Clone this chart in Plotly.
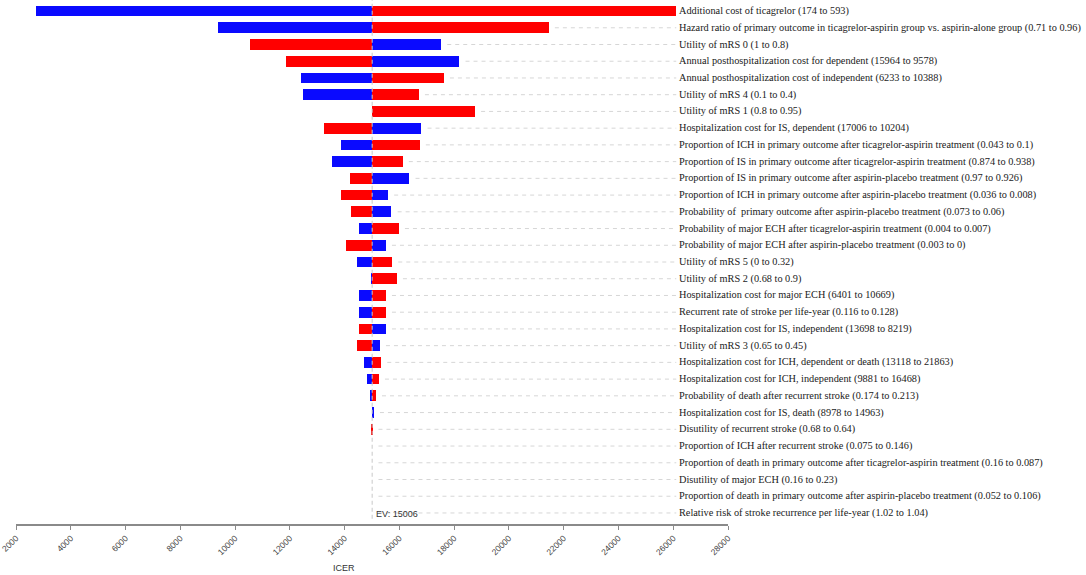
import plotly.graph_objects as go

# Valor esperado (EV) y parametros del tornado
ev = 15006

etiquetas = [
    "Additional cost of ticagrelor (174 to 593)",
    "Hazard ratio of primary outcome in ticagrelor-aspirin group vs. aspirin-alone group (0.71 to 0.96)",
    "Utility of mRS 0 (1 to 0.8)",
    "Annual posthospitalization cost for dependent (15964 to 9578)",
    "Annual posthospitalization cost of independent (6233 to 10388)",
    "Utility of mRS 4 (0.1 to 0.4)",
    "Utility of mRS 1 (0.8 to 0.95)",
    "Hospitalization cost for IS, dependent (17006 to 10204)",
    "Proportion of ICH in primary outcome after ticagrelor-aspirin treatment (0.043 to 0.1)",
    "Proportion of IS in primary outcome after ticagrelor-aspirin treatment (0.874 to 0.938)",
    "Proportion of IS in primary outcome after aspirin-placebo treatment (0.97 to 0.926)",
    "Proportion of ICH in primary outcome after aspirin-placebo treatment (0.036 to 0.008)",
    "Probability of  primary outcome after aspirin-placebo treatment (0.073 to 0.06)",
    "Probability of major ECH after ticagrelor-aspirin treatment (0.004 to 0.007)",
    "Probability of major ECH after aspirin-placebo treatment (0.003 to 0)",
    "Utility of mRS 5 (0 to 0.32)",
    "Utility of mRS 2 (0.68 to 0.9)",
    "Hospitalization cost for major ECH (6401 to 10669)",
    "Recurrent rate of stroke per life-year (0.116 to 0.128)",
    "Hospitalization cost for IS, independent (13698 to 8219)",
    "Utility of mRS 3 (0.65 to 0.45)",
    "Hospitalization cost for ICH, dependent or death (13118 to 21863)",
    "Hospitalization cost for ICH, independent (9881 to 16468)",
    "Probability of death after recurrent stroke (0.174 to 0.213)",
    "Hospitalization cost for IS, death (8978 to 14963)",
    "Disutility of recurrent stroke (0.68 to 0.64)",
    "Proportion of ICH after recurrent stroke (0.075 to 0.146)",
    "Proportion of death in primary outcome after ticagrelor-aspirin treatment (0.16 to 0.087)",
    "Disutility of major ECH (0.16 to 0.23)",
    "Proportion of death in primary outcome after aspirin-placebo treatment (0.052 to 0.106)",
    "Relative risk of stroke recurrence per life-year (1.02 to 1.04)",
]

# ICER en el extremo azul y en el extremo rojo de cada parametro
icer_azul = [2725, 9367, 17517, 18185, 12418, 12481, 15006, 16798, 13867, 13542,
             16360, 15579, 15706, 14539, 15499, 14440, 14951, 14539, 14539, 15499,
             15280, 14707, 14806, 14926, 15060, 15006, 15006, 15006, 15006, 15006,
             15006]
icer_rojo = [26119, 21448, 10528, 11849, 17615, 16703, 18754, 13247, 16736, 16115,
             14210, 13867, 14221, 15973, 14050, 15729, 15900, 15499, 15499, 14539,
             14466, 15327, 15243, 15134, 15006, 14975, 15006, 15006, 15006, 15006,
             15006]

ticks = list(range(2000, 28001, 2000))

filas = list(range(len(etiquetas)))
x_etiqueta = 26150

data = []

# lineas punteadas desde el final de la barra hasta la etiqueta
lx = []
ly = []
for i in filas:
    inicio = max(icer_azul[i], icer_rojo[i], ev) + 230
    if inicio < x_etiqueta - 100:
        lx += [inicio, x_etiqueta - 40, None]
        ly += [i, i, None]
data.append(go.Scatter(x=lx, y=ly, mode="lines",
                       line=dict(color="#d6d6d6", width=1, dash="4px,4px"),
                       hoverinfo="skip", showlegend=False))

data.append(go.Bar(y=filas, x=[v - ev for v in icer_azul], base=ev,
                   orientation="h", width=0.64, marker_color="#0a0aff",
                   marker_line_width=0, showlegend=False))
data.append(go.Bar(y=filas, x=[v - ev for v in icer_rojo], base=ev,
                   orientation="h", width=0.64, marker_color="#ff0000",
                   marker_line_width=0, showlegend=False))

fig = go.Figure(data=data)

for i in filas:
    fig.add_annotation(x=x_etiqueta, y=i, text=etiquetas[i], showarrow=False,
                       xanchor="left", yanchor="middle", xref="x", yref="y",
                       font=dict(family="Liberation Serif", size=10.3, color="#1a1a1a"))

# linea del valor esperado
fig.add_shape(type="line", x0=ev, x1=ev, y0=0.01, y1=1, xref="x", yref="paper",
              line=dict(color="#c8c8c8", width=1, dash="4px,3px"))
fig.add_annotation(x=ev, y=30, text="EV: 15006", showarrow=False, xanchor="left",
                   yanchor="middle", xshift=2, yshift=-1,
                   font=dict(family="Liberation Sans", size=9, color="#333333"))
fig.add_annotation(x=0.46, y=0, xref="paper", yref="paper", yanchor="top",
                   yshift=-37, text="ICER", showarrow=False,
                   font=dict(family="Liberation Sans", size=9, color="#333333"))

fig.update_layout(
    width=1086, height=575,
    margin=dict(l=14, r=358, t=0, b=51),
    plot_bgcolor="white", paper_bgcolor="white",
    barmode="overlay", bargap=0,
    xaxis=dict(range=[2000, 28000], tickvals=ticks, ticktext=[str(t) for t in ticks],
               tickangle=-45, showgrid=False, zeroline=False,
               showline=True, linecolor="#8a8a8a", linewidth=2,
               ticks="outside", ticklen=4, tickcolor="#8a8a8a", tickwidth=1,
               ticklabeloverflow="allow",
               tickfont=dict(family="Liberation Sans", size=8.5, color="#444444")),
    yaxis=dict(range=[30.66, -0.66], showticklabels=False, showgrid=False,
               zeroline=False, showline=False),
)

# quitar el margen del body para que la figura quede en la esquina
fig.write_html("out.html", config=dict(displayModeBar=False),
               post_script="document.body.style.margin='0';")
